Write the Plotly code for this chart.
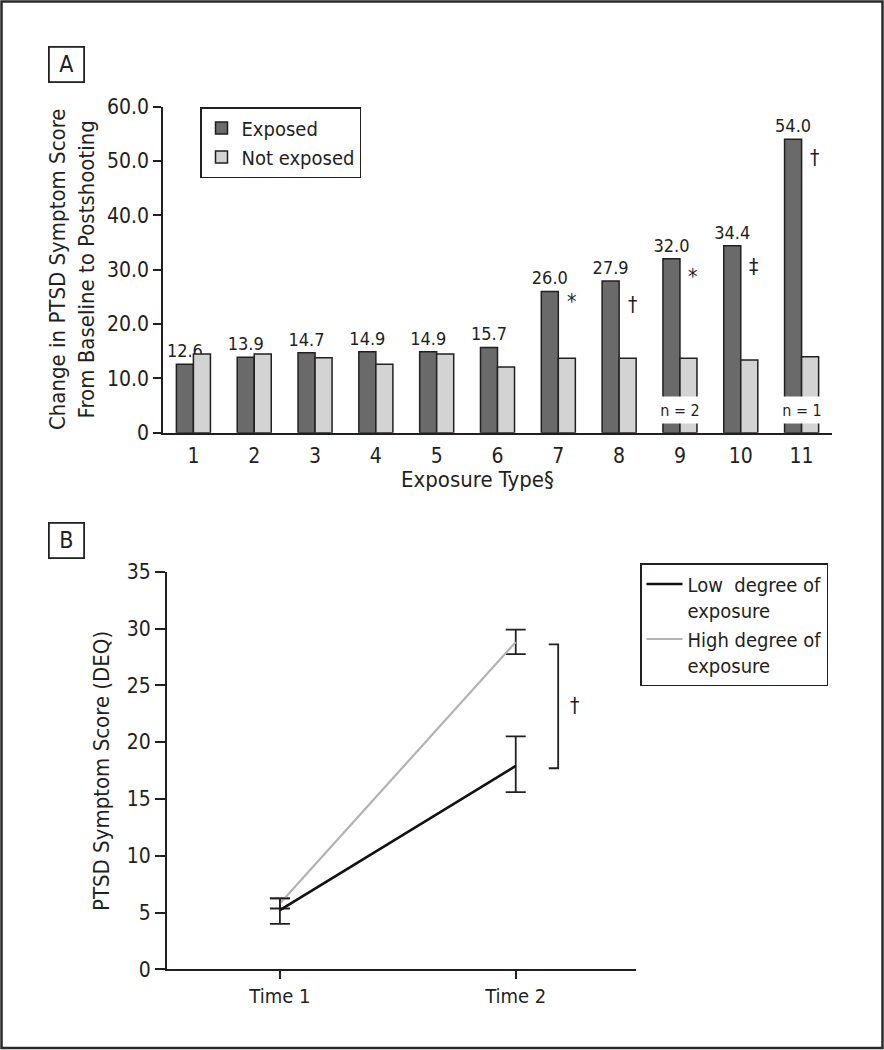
import plotly.graph_objects as go

FONT = "Liberation Sans Narrow, DejaVu Sans Condensed, Roboto Condensed, Arial Narrow, Liberation Sans, sans-serif"
INK = "#231f20"

# Panel A data
exposure_types = ["1", "2", "3", "4", "5", "6", "7", "8", "9", "10", "11"]
exposed = [12.6, 13.9, 14.7, 14.9, 14.9, 15.7, 26.0, 27.9, 32.0, 34.4, 54.0]
not_exposed = [14.5, 14.5, 13.8, 12.6, 14.5, 12.1, 13.7, 13.7, 13.7, 13.4, 14.0]
sig_marks = {"7": "*", "8": "†", "9": "*", "10": "‡", "11": "†"}
sig_mark_y = {"7": 24.0, "8": 23.5, "9": 28.7, "10": 30.5, "11": 50.6}
n_notes = {"9": "n = 2", "11": "n = 1"}
a_yticks = [0, 10, 20, 30, 40, 50, 60]
a_yticklabels = ["0", "10.0", "20.0", "30.0", "40.0", "50.0", "60.0"]

# Panel B data
times = [1, 2]
time_labels = ["Time 1", "Time 2"]
low_mean = [5.2, 17.9]
low_err_plus = [1.05, 2.6]
low_err_minus = [1.2, 2.3]
high_mean = [5.8, 28.8]
high_err_plus = [0.45, 1.1]
high_err_minus = [0.45, 1.05]

W, H = 884, 1050


def px_x(p):
    return p / W


def px_y(p):
    return 1 - p / H


fig = go.Figure()

fig.add_trace(go.Bar(
    x=exposure_types, y=exposed, name="Exposed",
    marker=dict(color="#6a6a6a", line=dict(color=INK, width=1.5)),
    text=[f"{v:.1f}" for v in exposed], textposition="outside",
    textfont=dict(size=18, color=INK, family=FONT),
    constraintext="none", cliponaxis=False,
    xaxis="x", yaxis="y", legend="legend",
))
fig.add_trace(go.Bar(
    x=exposure_types, y=not_exposed, name="Not exposed",
    marker=dict(color="#d3d3d3", line=dict(color=INK, width=1.5)),
    xaxis="x", yaxis="y", legend="legend",
))

fig.add_trace(go.Scatter(
    x=times, y=high_mean, name="High degree of<br>exposure", mode="lines",
    line=dict(color="#b3b3b3", width=2.2),
    error_y=dict(type="data", symmetric=False, array=high_err_plus,
                 arrayminus=high_err_minus, color=INK, thickness=1.8, width=10),
    xaxis="x2", yaxis="y2", legend="legend2", legendrank=2,
))
fig.add_trace(go.Scatter(
    x=times, y=low_mean, name="Low  degree of<br>exposure", mode="lines",
    line=dict(color="#111111", width=2.6),
    error_y=dict(type="data", symmetric=False, array=low_err_plus,
                 arrayminus=low_err_minus, color=INK, thickness=1.8, width=10),
    xaxis="x2", yaxis="y2", legend="legend2", legendrank=1,
))

annotations = []
# significance markers in panel A (category axis -> use index positions)
for cat, mark in sig_marks.items():
    annotations.append(dict(
        x=exposure_types.index(cat), y=sig_mark_y[cat], xref="x", yref="y",
        text=mark, showarrow=False, xshift=13,
        font=dict(size=21, color=INK, family=FONT),
    ))
# n notes that break the bars
for cat, note in n_notes.items():
    annotations.append(dict(
        x=exposure_types.index(cat), y=4.2, xref="x", yref="y", text=note,
        showarrow=False, bgcolor="white", width=40, height=24,
        font=dict(size=16, color=INK, family=FONT),
    ))

# panel labels
for label, cx, cy in [("A", 66, 64), ("B", 66, 540)]:
    annotations.append(dict(
        x=px_x(cx), y=px_y(cy), xref="paper", yref="paper", text=label,
        showarrow=False, xanchor="center", yanchor="middle",
        width=31, height=31, bordercolor="#222", borderwidth=1.8, borderpad=1,
        font=dict(size=23, color=INK, family=FONT),
    ))

# axis titles
annotations.append(dict(
    x=px_x(72), y=px_y(270), xref="paper", yref="paper",
    text="Change in PTSD Symptom Score<br>From Baseline to Postshooting",
    textangle=-90, showarrow=False, xanchor="center", yanchor="middle",
    font=dict(size=22, color=INK, family=FONT),
))
annotations.append(dict(
    x=px_x(478), y=px_y(480), xref="paper", yref="paper",
    text="Exposure Type§", showarrow=False, xanchor="center", yanchor="middle",
    font=dict(size=22, color=INK, family=FONT),
))
annotations.append(dict(
    x=px_x(101), y=px_y(771), xref="paper", yref="paper",
    text="PTSD Symptom Score (DEQ)",
    textangle=-90, showarrow=False, xanchor="center", yanchor="middle",
    font=dict(size=22, color=INK, family=FONT),
))

# significance bracket between groups at Time 2
br_x0, br_x1 = 2.14, 2.18
bracket_top = high_mean[1] - 0.2
bracket_bot = low_mean[1] - 0.2
shapes = [
    dict(type="path", xref="x2", yref="y2",
         path=f"M {br_x0} {bracket_top} L {br_x1} {bracket_top} "
              f"L {br_x1} {bracket_bot} L {br_x0} {bracket_bot}",
         line=dict(color=INK, width=1.8)),
    dict(type="rect", xref="paper", yref="paper",
         x0=px_x(1.5), x1=px_x(882.5), y0=px_y(1048), y1=px_y(1.5),
         line=dict(color="#2a2a2a", width=2.5)),
]
annotations.append(dict(
    x=br_x1, y=(bracket_top + bracket_bot) / 2, xref="x2", yref="y2",
    text="†", showarrow=False, xshift=16,
    font=dict(size=21, color=INK, family=FONT),
))

axis_common = dict(showline=True, linecolor=INK, linewidth=1.6, showgrid=False,
                   zeroline=False, tickcolor=INK, tickwidth=1.6, automargin=False,
                   tickfont=dict(size=21, color=INK, family=FONT))

fig.update_layout(
    width=W, height=H,
    margin=dict(l=0, r=0, t=0, b=0, pad=0, autoexpand=False),
    paper_bgcolor="white", plot_bgcolor="white",
    font=dict(family=FONT, color=INK),
    barmode="group", bargap=0.44, bargroupgap=0,
    xaxis=dict(axis_common, domain=[px_x(163), px_x(832)], type="category",
               ticks="", ticklabelstandoff=3, anchor="y"),
    yaxis=dict(axis_common, domain=[px_y(432.7), px_y(106.7)], range=[0, 60],
               tickvals=a_yticks, ticktext=a_yticklabels, ticks="outside",
               ticklen=8, anchor="x"),
    xaxis2=dict(axis_common, domain=[px_x(166.7), px_x(636)], range=[0.52, 2.51],
                tickvals=times, ticktext=time_labels, ticks="outside", ticklen=8,
                anchor="y2", tickfont=dict(size=20, color=INK, family=FONT)),
    yaxis2=dict(axis_common, domain=[px_y(969.3), px_y(571.7)], range=[0, 35],
                dtick=5, ticks="outside", ticklen=10, anchor="x2"),
    legend=dict(x=px_x(200), y=px_y(107), xanchor="left", yanchor="top",
                bordercolor=INK, borderwidth=1.5, bgcolor="white",
                font=dict(size=20, color=INK, family=FONT),
                tracegroupgap=0, itemwidth=30),
    legend2=dict(x=px_x(640), y=px_y(563), xanchor="left", yanchor="top",
                 bordercolor=INK, borderwidth=1.5, bgcolor="white",
                 font=dict(size=20, color=INK, family=FONT), valign="top",
                 tracegroupgap=0, itemwidth=36),
    annotations=annotations,
    shapes=shapes,
    showlegend=True,
)

fig.write_html("out.html", config={"displayModeBar": False},
               post_script="document.body.style.margin='0';")
